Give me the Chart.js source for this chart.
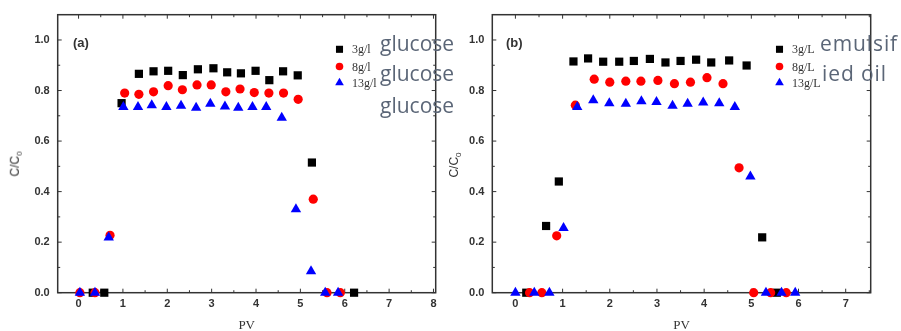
<!DOCTYPE html>
<html lang="en">
<head>
<meta charset="UTF-8">
<title>C/C0 vs PV</title>
<style>
  body { margin: 0; background: #fff; font-family: "Liberation Sans", Arial, sans-serif; }
  .wrap { position: relative; width: 901px; height: 331px; overflow: hidden; }
  .wrap canvas { position: absolute; top: 0; }
  .ytitle { position: absolute; font: 12px "Liberation Sans", Arial, sans-serif; color: #333;
            transform: translate(-50%, -50%) rotate(-90deg); white-space: nowrap; }
  .ytitle sub { font-size: 8px; }
  .tag { position: absolute; font: bold 13px "Liberation Sans", Arial, sans-serif; color: #333; }
  .ocr { position: absolute; font: 21px "Open Sans", sans-serif; color: #5b6677; white-space: nowrap; line-height: 1; }
  .ocr.wide { letter-spacing: 0.9px; }
</style>
<script src="https://cdn.jsdelivr.net/npm/chart.js"></script>
</head>
<body>
<div class="wrap">
  <canvas id="chartA" width="450" height="331" style="left:0"></canvas>
  <canvas id="chartB" width="451" height="331" style="left:450px"></canvas>

  <div class="ytitle" style="left:16px; top:164px">C/C<sub>0</sub></div>
  <div class="ytitle" style="left:455px; top:165px">C/C<sub>0</sub></div>
  <div class="tag" style="left:73px; top:35px">(a)</div>
  <div class="tag" style="left:506px; top:35px">(b)</div>

  <div class="ocr" style="left:380px; top:33px">glucose</div>
  <div class="ocr" style="left:380px; top:63px">glucose</div>
  <div class="ocr" style="left:380px; top:95px">glucose</div>
  <div class="ocr wide" style="left:820px; top:33px">emulsif</div>
  <div class="ocr wide" style="left:822px; top:63px">ied oil</div>
</div>

<script>
    // (a) glucose
    var aPv3 = [0.32, 0.58, 0.97, 1.36, 1.69, 2.02, 2.35, 2.69, 3.04, 3.35, 3.66, 3.99, 4.30, 4.61, 4.94, 5.26, 6.21];
    var aC3 = [0, 0, 0.75, 0.866, 0.876, 0.878, 0.861, 0.884, 0.888, 0.872, 0.868, 0.878, 0.841, 0.876, 0.860, 0.515, 0];
    var aPv8 = [0.03, 0.37, 0.71, 1.04, 1.36, 1.69, 2.02, 2.34, 2.67, 2.99, 3.32, 3.64, 3.96, 4.29, 4.62, 4.95, 5.29, 5.60, 5.90];
    var aC8 = [0, 0, 0.227, 0.79, 0.785, 0.795, 0.819, 0.803, 0.822, 0.822, 0.795, 0.806, 0.792, 0.79, 0.79, 0.765, 0.37, 0, 0];
    var aPv13 = [0.03, 0.37, 0.68, 1.01, 1.34, 1.65, 1.98, 2.31, 2.65, 2.97, 3.30, 3.60, 3.92, 4.23, 4.58, 4.90, 5.24, 5.56, 5.85];
    var aC13 = [0, 0, 0.218, 0.735, 0.735, 0.742, 0.735, 0.74, 0.732, 0.748, 0.737, 0.732, 0.735, 0.735, 0.692, 0.33, 0.085, 0, 0];

    // (b) emulsified oil
    var bPv3 = [0.23, 0.65, 0.92, 1.23, 1.54, 1.86, 2.20, 2.51, 2.85, 3.18, 3.50, 3.83, 4.15, 4.53, 4.90, 5.23, 5.54];
    var bC3 = [0, 0.264, 0.44, 0.915, 0.927, 0.914, 0.914, 0.917, 0.925, 0.911, 0.917, 0.922, 0.911, 0.919, 0.899, 0.219, 0];
    var bPv8 = [0.30, 0.56, 0.875, 1.27, 1.67, 2.00, 2.34, 2.66, 3.02, 3.37, 3.71, 4.06, 4.40, 4.74, 5.05, 5.41, 5.74];
    var bC8 = [0, 0, 0.225, 0.742, 0.845, 0.833, 0.837, 0.837, 0.84, 0.827, 0.833, 0.851, 0.827, 0.494, 0, 0, 0];
    var bPv13 = [0.0, 0.40, 0.72, 1.02, 1.31, 1.65, 1.99, 2.34, 2.67, 2.99, 3.33, 3.65, 3.98, 4.32, 4.65, 4.98, 5.31, 5.64, 5.93];
    var bC13 = [0, 0, 0, 0.256, 0.735, 0.761, 0.75, 0.748, 0.758, 0.755, 0.74, 0.748, 0.753, 0.75, 0.735, 0.46, 0, 0, 0];

    var labelsA = ['3g/l', '8g/l', '13g/l'];
    var labelsB = ['3g/L', '8g/L', '13g/L'];

    function pts(xs, ys) {
        return xs.map(function (x, i) { return { x: x, y: ys[i] }; });
    }

    function drawMarker(ctx, style, x, y, r, color) {
        ctx.fillStyle = color;
        ctx.beginPath();
        if (style === 'rect') {
            var s = r * Math.SQRT1_2;
            ctx.rect(x - s, y - s, 2 * s, 2 * s);
        } else if (style === 'circle') {
            ctx.arc(x, y, r, 0, Math.PI * 2);
        } else {
            var a = Math.PI / 2;
            ctx.moveTo(x + Math.cos(-a) * r, y + Math.sin(-a) * r);
            ctx.lineTo(x + Math.cos(-a + 2 * Math.PI / 3) * r, y + Math.sin(-a + 2 * Math.PI / 3) * r);
            ctx.lineTo(x + Math.cos(-a + 4 * Math.PI / 3) * r, y + Math.sin(-a + 4 * Math.PI / 3) * r);
            ctx.closePath();
        }
        ctx.fill();
    }

    // frame box with inward major/minor ticks on all four sides
    var framePlugin = {
        id: 'frame',
        beforeDatasetsDraw: function (chart) {
            var ctx = chart.ctx, a = chart.chartArea;
            var xs = chart.scales.x, ys = chart.scales.y;
            ctx.save();
            ctx.strokeStyle = '#333';
            ctx.lineWidth = 1.5;
            ctx.strokeRect(a.left, a.top, a.right - a.left, a.bottom - a.top);
            ctx.lineWidth = 1;
            ctx.beginPath();
            xs.ticks.forEach(function (t) {
                var p = xs.getPixelForValue(t.value);
                ctx.moveTo(p, a.bottom); ctx.lineTo(p, a.bottom - 4);
                ctx.moveTo(p, a.top); ctx.lineTo(p, a.top + 4);
                var m = xs.getPixelForValue(t.value + 0.5);
                if (m < a.right - 1) {
                    ctx.moveTo(m, a.bottom); ctx.lineTo(m, a.bottom - 2.5);
                    ctx.moveTo(m, a.top); ctx.lineTo(m, a.top + 2.5);
                }
            });
            ys.ticks.forEach(function (t) {
                var p = ys.getPixelForValue(t.value);
                ctx.moveTo(a.left, p); ctx.lineTo(a.left + 4, p);
                ctx.moveTo(a.right, p); ctx.lineTo(a.right - 4, p);
                var m = ys.getPixelForValue(t.value + 0.1);
                if (m > a.top + 1) {
                    ctx.moveTo(a.left, m); ctx.lineTo(a.left + 2.5, m);
                    ctx.moveTo(a.right, m); ctx.lineTo(a.right - 2.5, m);
                }
            });
            ctx.stroke();
            ctx.restore();
        }
    };

    var legendPlugin = {
        id: 'ptLegend',
        afterDatasetsDraw: function (chart, args, opts) {
            var ctx = chart.ctx;
            ctx.save();
            chart.data.datasets.forEach(function (ds, i) {
                var y = opts.ys[i];
                drawMarker(ctx, ds.pointStyle, opts.x, y, opts.r[i], ds.backgroundColor);
                ctx.fillStyle = '#333';
                ctx.font = '12px "Liberation Serif", serif';
                ctx.textBaseline = 'middle';
                ctx.fillText(opts.labels[i], opts.tx, y + 1);
            });
            ctx.restore();
        }
    };

    function makeChart(id, p3, c3, p8, c8, p13, c13, xMin, xMax, left, rightPad, legend) {
        var tickFont = { family: '"Liberation Sans", Arial, sans-serif', size: 11, weight: 'bold' };
        return new Chart(document.getElementById(id), {
            type: 'scatter',
            data: {
                datasets: [
                    { label: legend.labels[0], data: pts(p3, c3), pointStyle: 'rect', pointRadius: 5.8,
                      backgroundColor: '#000000', borderColor: '#000000', borderWidth: 0, order: 3, clip: false },
                    { label: legend.labels[1], data: pts(p8, c8), pointStyle: 'circle', pointRadius: 4.6,
                      backgroundColor: '#ff0000', borderColor: '#ff0000', borderWidth: 0, order: 2, clip: false },
                    { label: legend.labels[2], data: pts(p13, c13), pointStyle: 'triangle', pointRadius: 6,
                      backgroundColor: '#0000ff', borderColor: '#0000ff', borderWidth: 0, order: 1, clip: false }
                ]
            },
            options: {
                responsive: false,
                animation: false,
                layout: { padding: { left: 0, right: rightPad, top: 14.7, bottom: 0 } },
                plugins: {
                    legend: { display: false },
                    tooltip: { enabled: false },
                    ptLegend: legend
                },
                scales: {
                    x: {
                        type: 'linear', min: xMin, max: xMax,
                        grid: { display: false, drawTicks: false },
                        border: { display: false },
                        ticks: { stepSize: 1, includeBounds: false, font: tickFont, color: '#333', padding: 5 },
                        title: { display: true, text: 'PV', color: '#333',
                                 font: { family: '"Liberation Serif", serif', size: 13 }, padding: { top: 0, bottom: -2 } },
                        afterFit: function (s) { s.height = 38.3; }
                    },
                    y: {
                        min: 0, max: 1.1,
                        grid: { display: false, drawTicks: false },
                        border: { display: false },
                        ticks: { stepSize: 0.2, includeBounds: false, font: tickFont, color: '#333', padding: 8,
                                 callback: function (v) { return v.toFixed(1); } },
                        afterFit: function (s) { s.width = left; }
                    }
                }
            },
            plugins: [framePlugin, legendPlugin]
        });
    }

    makeChart('chartA', aPv3, aC3, aPv8, aC8, aPv13, aC13, -0.47, 8.05, 57.7, 14.3,
        { x: 339.5, tx: 352, ys: [49.3, 66.5, 82.7], r: [5, 3.8, 5], labels: labelsA });
    makeChart('chartB', bPv3, bC3, bPv8, bC8, bPv13, bC13, -0.49, 7.53, 42.3, 30.3,
        { x: 329.5, tx: 342, ys: [49.3, 66.5, 82.7], r: [5, 3.8, 5], labels: labelsB });
</script>
</body>
</html>
